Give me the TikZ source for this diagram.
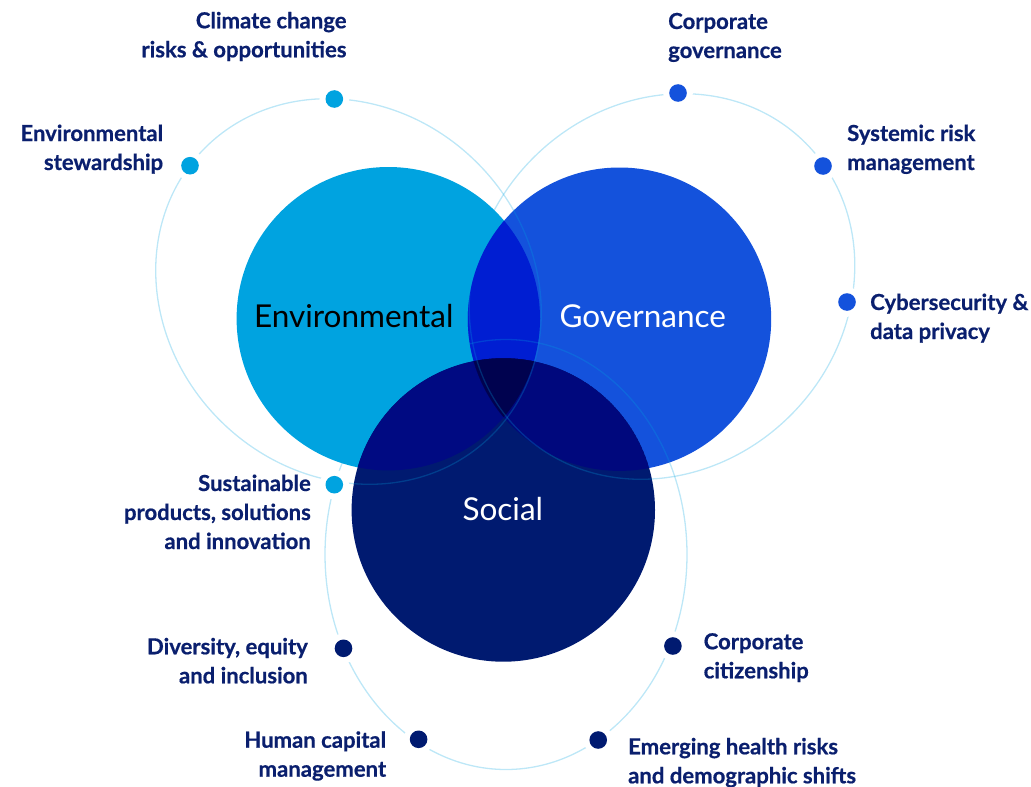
\documentclass[tikz,border=0pt]{standalone}
\usepackage{fontspec}
\setmainfont{Lato}[BoldFeatures={FakeBold=0.6}]
\usepackage{tikz}
\usetikzlibrary{positioning}
\definecolor{envblue}{HTML}{00A3E0}
\definecolor{govblue}{HTML}{1452DC}
\definecolor{socblue}{HTML}{001A70}
\definecolor{egblue}{HTML}{001ED2}
\definecolor{esblue}{HTML}{000A82}
\definecolor{gsblue}{HTML}{00087D}
\definecolor{egsblue}{HTML}{00024F}
\definecolor{txtblue}{HTML}{0A1F6E}
\newcommand{\rad}{151.7}
\tikzset{
  big/.style={circle, inner sep=0pt, minimum size=303.4pt},
  dot/.style={circle, inner sep=0pt, minimum size=17.6pt, preaction={draw=white, line width=12pt}},
  ring/.style={envblue, opacity=.26, line width=1.3pt},
  topic/.style={inner sep=0pt, text=txtblue, font=\bfseries\fontsize{22.1}{29}\selectfont},
  pillar/.style={inner sep=0pt, anchor=base, font=\fontsize{31.5}{36}\selectfont}
}

\begin{document}
\begin{tikzpicture}[x=1pt, y=-1pt]
\useasboundingbox (0,0) rectangle (1031,787);
\node[big, fill=envblue] (env) at (388.3,318.7) {};
\node[big, fill=govblue] (gov) at (619.5,319.2) {};
\node[big, fill=socblue] (soc) at (503.3,510) {};
\begin{scope}
 \clip (env.center) circle (\rad);
 \fill[egblue] (gov.center) circle (\rad);
 \fill[esblue] (soc.center) circle (\rad);
 \clip (gov.center) circle (\rad);
 \fill[egsblue] (soc.center) circle (\rad);
\end{scope}
\begin{scope}
 \clip (gov.center) circle (\rad);
 \clip (soc.center) circle (\rad);
 \fill[gsblue] (soc.center) circle (\rad);
 \clip (env.center) circle (\rad);
 \fill[egsblue] (soc.center) circle (\rad);
\end{scope}
\draw[ring, rotate around={-45:(348.5,291.5)}] (348.5,291.5) ellipse [x radius=203, y radius=182];
\draw[ring, rotate around={45:(662,286.5)}] (662,286.5) ellipse [x radius=203, y radius=182];
\draw[ring] (506,554.5) ellipse [x radius=181, y radius=215];
\node[pillar] (envt) at (353.7,327.3) {Environmental};
\node[pillar, text=white] (govt) at (642.8,327.3) {Governance};
\node[pillar, text=white] (soct) at (502.8,520.7) {Social};
\foreach \p [count=\i] in {(334.3,99), (190,165.7), (334.3,484.7)}
 \node[dot, fill=envblue] (e\i) at \p {};
\foreach \p [count=\i] in {(678,93), (823,166), (847,302)}
 \node[dot, fill=govblue] (g\i) at \p {};
\foreach \p [count=\i] in {(343.5,648.3), (418.6,739.3), (598.2,740), (672.9,646)}
 \node[dot, fill=socblue] (s\i) at \p {};
% base anchor sits on the last line
\node[topic, anchor=base east, align=right] (climate) at (346.7,57.3) {Climate change\\risks \& opportunities};
\node[topic, anchor=base east, align=right] (steward) at (163.3,170) {Environmental\\stewardship};
\node[topic, anchor=base east, align=right] (products) at (311,549) {Sustainable\\products, solutions\\and innovation};
\node[topic, anchor=base west, align=left] (corpgov) at (668,58) {Corporate\\governance};
\node[topic, anchor=base west, align=left] (sysrisk) at (847,170) {Systemic risk\\management};
\node[topic, anchor=base west, align=left] (cyber) at (870,339) {Cybersecurity \&\\data privacy};
\node[topic, anchor=base east, align=right] (diversity) at (308,683.3) {Diversity, equity\\and inclusion};
\node[topic, anchor=base east, align=right] (human) at (386.3,776.7) {Human capital\\management};
\node[topic, anchor=base west, align=left] (citizen) at (703.5,678.3) {Corporate\\citizenship};
\node[topic, anchor=base west, align=left] (health) at (628,783.3) {Emerging health risks\\and demographic shifts};
\end{tikzpicture}
\end{document}
